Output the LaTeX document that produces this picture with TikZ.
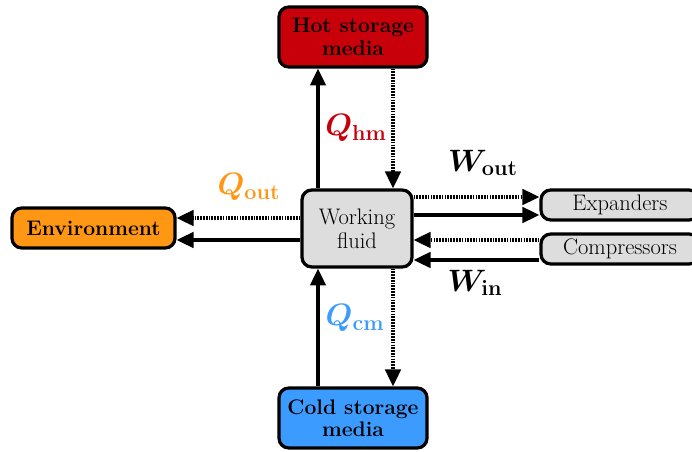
\RequirePackage{fix-cm}
\documentclass[tikz,border=0pt]{standalone}
\usepackage{bm}
\usetikzlibrary{arrows.meta}
\definecolor{hotred}{RGB}{200,0,10}
\definecolor{coldblue}{RGB}{60,155,255}
\definecolor{envorange}{RGB}{255,150,20}
\definecolor{boxgray}{RGB}{221,221,221}
\newcommand{\flux}[2]{$\bm{#1}_{\mathbf{#2}}$}
\tikzset{
    box/.style={rectangle,draw,line width=2.3pt,rounded corners=7pt,align=center,font=\fontsize{16}{17}\selectfont},
    boldbox/.style={box,font=\fontsize{15}{16}\selectfont\bfseries},
    flow/.style={line width=2.3pt,-{Triangle[length=12pt,width=11pt]}},
    dotflow/.style={flow,dash pattern=on 1.2pt off 0.8pt},
    lbl/.style={font=\fontsize{22}{23}\selectfont,inner sep=0pt}
}
\begin{document}
\begin{tikzpicture}[x=0.025cm,y=-0.025cm]
        %\draw [very thin, green]  (0,0) grid[step=50] (692,452);
        \clip (0,0) rectangle (692,452);
        \node at (353,37) [boldbox,fill=hotred,minimum width=3.7cm,minimum height=1.5cm] (hot) {Hot storage\\media};
        \node at (357,228.5) [box,fill=boxgray,minimum width=2.75cm,minimum height=1.925cm] (wf) {Working\\fluid};
        \node at (93.5,228) [boldbox,fill=envorange,minimum width=4.075cm,minimum height=1cm] (env) {Environment};
        \node at (353,418) [boldbox,fill=coldblue,minimum width=3.7cm,minimum height=1.5cm] (cold) {Cold storage\\media};
        \node at (620,205) [box,fill=boxgray,minimum width=3.95cm,minimum height=0.75cm,inner sep=1pt] (exp) {Expanders};
        \node at (620,249) [box,fill=boxgray,minimum width=3.95cm,minimum height=0.75cm,inner sep=1pt] (comp) {Compressors};

        \coordinate (xs) at (318,0);
        \coordinate (xd) at (393,0);
        \coordinate (yo) at (0,197);
        \coordinate (yw) at (0,215);
        \coordinate (yi) at (0,240);
        \coordinate (yc) at (0,260);
        \coordinate (ye) at (0,218);
        \coordinate (yf) at (0,240);

        \draw [flow] (wf.north -| xs) -- (hot.south -| xs);
        \draw [dotflow] (hot.south -| xd) -- (wf.north -| xd);
        \draw [flow] (cold.north -| xs) -- (wf.south -| xs);
        \draw [dotflow] (wf.south -| xd) -- (cold.north -| xd);

        \draw [dotflow] (wf.west |- ye) -- (env.east |- ye);
        \draw [flow] (wf.west |- yf) -- (env.east |- yf);

        \draw [dotflow] (wf.east |- yo) -- (exp.west |- yo);
        \draw [flow] (wf.east |- yw) -- (exp.west |- yw);
        \draw [dotflow] (comp.west |- yi) -- (wf.east |- yi);
        \draw [flow] (comp.west |- yc) -- (wf.east |- yc);

        \node at (356,128) [lbl,text=hotred] (qhm) {\flux{Q}{hm}};
        \node at (249,187) [lbl,text=envorange] (qout) {\flux{Q}{out}};
        \node at (483,163) [lbl] (wout) {\flux{W}{out}};
        \node at (475,283) [lbl] (win) {\flux{W}{in}};
        \node at (355,318) [lbl,text=coldblue] (qcm) {\flux{Q}{cm}};
    \end{tikzpicture}
\end{document}
